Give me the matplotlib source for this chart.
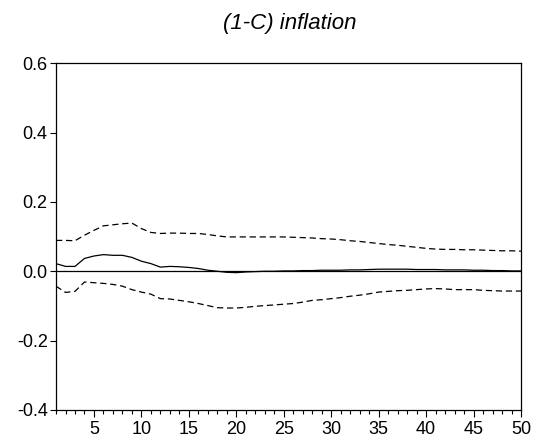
import matplotlib
matplotlib.use("Agg")
import matplotlib.pyplot as plt

plt.rcParams['font.family'] = ['Liberation Sans', 'DejaVu Sans']

# periods 1..50
periodos = list(range(1, 51))

# impulse response (solid)
respuesta = [0.022, 0.014, 0.014, 0.037, 0.044, 0.048, 0.046, 0.046, 0.040, 0.029,
             0.022, 0.012, 0.014, 0.013, 0.011, 0.008, 0.003, 0.000, -0.003, -0.004,
             -0.002, -0.001, 0.000, 0.000, 0.001, 0.001, 0.002, 0.002, 0.003, 0.003,
             0.003, 0.004, 0.004, 0.005, 0.006, 0.006, 0.006, 0.006, 0.005, 0.005,
             0.005, 0.004, 0.004, 0.004, 0.003, 0.003, 0.002, 0.002, 0.001, 0.001]

# upper band (+2 s.e.)
banda_sup = [0.089, 0.089, 0.088, 0.104, 0.118, 0.131, 0.134, 0.137, 0.139, 0.123,
             0.112, 0.109, 0.110, 0.110, 0.109, 0.109, 0.106, 0.102, 0.099, 0.099,
             0.099, 0.099, 0.099, 0.099, 0.099, 0.098, 0.097, 0.096, 0.094, 0.093,
             0.091, 0.088, 0.086, 0.083, 0.080, 0.077, 0.075, 0.072, 0.069, 0.066,
             0.064, 0.063, 0.063, 0.062, 0.062, 0.061, 0.060, 0.059, 0.059, 0.058]

# lower band (-2 s.e.)
banda_inf = [-0.043, -0.061, -0.058, -0.031, -0.033, -0.035, -0.038, -0.043, -0.053, -0.060,
             -0.066, -0.079, -0.080, -0.084, -0.088, -0.093, -0.099, -0.105, -0.106, -0.106,
             -0.104, -0.101, -0.099, -0.097, -0.095, -0.093, -0.089, -0.084, -0.082, -0.079,
             -0.076, -0.072, -0.069, -0.065, -0.060, -0.058, -0.056, -0.055, -0.053, -0.051,
             -0.050, -0.051, -0.053, -0.053, -0.053, -0.055, -0.056, -0.057, -0.057, -0.057]

titulo = "(1-C) inflation"
yticks = [-0.4, -0.2, 0.0, 0.2, 0.4, 0.6]
xticks = list(range(5, 51, 5))

fig = plt.figure(figsize=(5.36, 4.45), dpi=100)
ax = fig.add_axes([0.1045, 0.0787, 0.8675, 0.7793])

ax.axhline(0, color='black', lw=0.9)
ax.plot(periodos, respuesta, '-', color='black', lw=0.9)
ax.plot(periodos, banda_sup, '--', color='black', lw=0.9, dashes=(5, 3))
ax.plot(periodos, banda_inf, '--', color='black', lw=0.9, dashes=(5, 3))

ax.set_xlim(1, 50)
ax.set_ylim(-0.4, 0.6)
ax.set_yticks(yticks)
ax.set_yticklabels(["%.1f" % v for v in yticks])
ax.set_xticks(periodos, minor=True)
ax.set_xticks(xticks)
ax.tick_params(axis='both', which='major', direction='out', length=4, width=0.8,
               labelsize=13, pad=2)
ax.tick_params(axis='x', which='major', length=5, pad=3)
ax.tick_params(axis='x', which='minor', direction='out', length=3, width=0.8)

for s in ax.spines.values():
    s.set_linewidth(0.9)

fig.text(0.5411, 0.948, titulo, ha='center', va='center', fontsize=16, style='italic')

fig.savefig("out.png", dpi=100)
